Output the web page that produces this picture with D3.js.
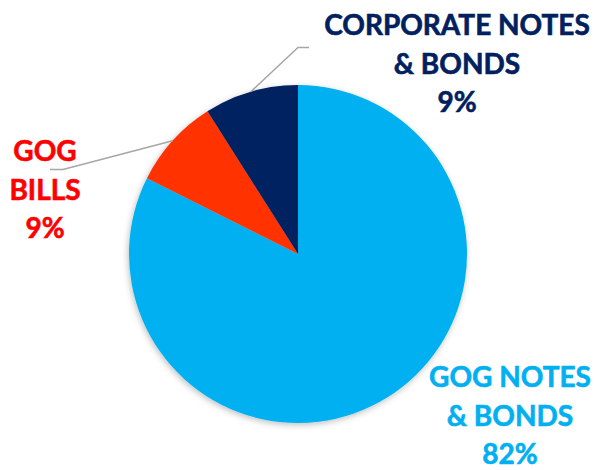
<!DOCTYPE html>
<html>
<head>
<meta charset="utf-8">
<script src="https://cdn.jsdelivr.net/npm/d3@7"></script>
<style>
    body { margin: 0; background: #fff; }
    svg { display: block; }
    .lbl { font-family: Lato, "Open Sans", sans-serif; font-weight: 700; }
</style>
</head>
<body>
<script>
// portfolio mix (share of total, %)
const categories = ['GOG NOTES & BONDS', 'GOG BILLS', 'CORPORATE NOTES & BONDS'];
const values = [82.4, 8.6, 9.0];
const labelLines = [
    ['GOG NOTES', '& BONDS'],
    ['GOG', 'BILLS'],
    ['CORPORATE NOTES', '& BONDS']
];

const draw = () => {
    let w = 595,
        h = 470;

    let cx = 298,
        cy = 254,
        r = 169;

    let color = d3.scaleOrdinal()
        .domain(categories)
        .range(['#00B0F0', '#FF3300', '#002060']);

    let textColor = d3.scaleOrdinal()
        .domain(categories)
        .range(['#00B0F0', '#FF0000', '#002060']);

    // where Excel put the labels (center x, first baseline) + leader elbow
    let labelPos = {
        'GOG NOTES & BONDS': { x: 510, y: 387, leader: null },
        'GOG BILLS': { x: 45, y: 161, leader: [[50, 169.5], [63, 169.5]] },
        'CORPORATE NOTES & BONDS': { x: 457, y: 35, leader: [[309, 47.5], [298, 47.5]] }
    };
    let lineGap = 38.5;

    let pie = d3.pie()
        .sort(null)
        .value(d => d.value);

    let arc = d3.arc()
        .innerRadius(0)
        .outerRadius(r);

    // zero-width arc on the rim, for leader line ends
    let rimArc = d3.arc()
        .innerRadius(r)
        .outerRadius(r);

    let data = categories.map((c, i) => ({ name: c, value: values[i], lines: labelLines[i] }));
    let arcs = pie(data);

    let svg = d3.select('body')
        .append('svg')
        .attr('width', w)
        .attr('height', h)
        .attr('viewBox', `0 0 ${w} ${h}`);

    let defs = svg.append('defs');
    let f = defs.append('filter')
        .attr('id', 'shadow')
        .attr('x', '-20%').attr('y', '-20%')
        .attr('width', '140%').attr('height', '140%');
    f.append('feDropShadow')
        .attr('dx', -1)
        .attr('dy', 2)
        .attr('stdDeviation', 3)
        .attr('flood-color', '#000')
        .attr('flood-opacity', 0.25);

    let g = svg.append('g')
        .attr('transform', `translate(${cx},${cy})`);

    g.append('g')
        .attr('filter', 'url(#shadow)')
        .selectAll('path')
        .data(arcs)
        .enter()
        .append('path')
        .attr('d', arc)
        .attr('fill', d => color(d.data.name));

    // leader lines
    arcs.forEach(d => {
        let pos = labelPos[d.data.name];
        if (!pos.leader) return;
        let end = rimArc.centroid(d);
        let pts = pos.leader.concat([[end[0] + cx, end[1] + cy]]);
        svg.append('path')
            .attr('d', d3.line()(pts))
            .attr('fill', 'none')
            .attr('stroke', '#A6A6A6')
            .attr('stroke-width', 1.5);
    });

    // labels
    let fmt = v => d3.format('.0f')(v) + '%';
    arcs.forEach(d => {
        let pos = labelPos[d.data.name];
        let t = svg.append('text')
            .attr('class', 'lbl')
            .attr('text-anchor', 'middle')
            .attr('font-size', 28)
            .attr('fill', textColor(d.data.name))
            .attr('stroke', textColor(d.data.name))
            .attr('stroke-width', 0.6);
        d.data.lines.concat([fmt(d.data.value)]).forEach((s, i) => {
            t.append('tspan')
                .attr('x', pos.x)
                .attr('y', pos.y + i * lineGap)
                .text(s);
        });
    });
}

draw()
</script>
</body>
</html>
